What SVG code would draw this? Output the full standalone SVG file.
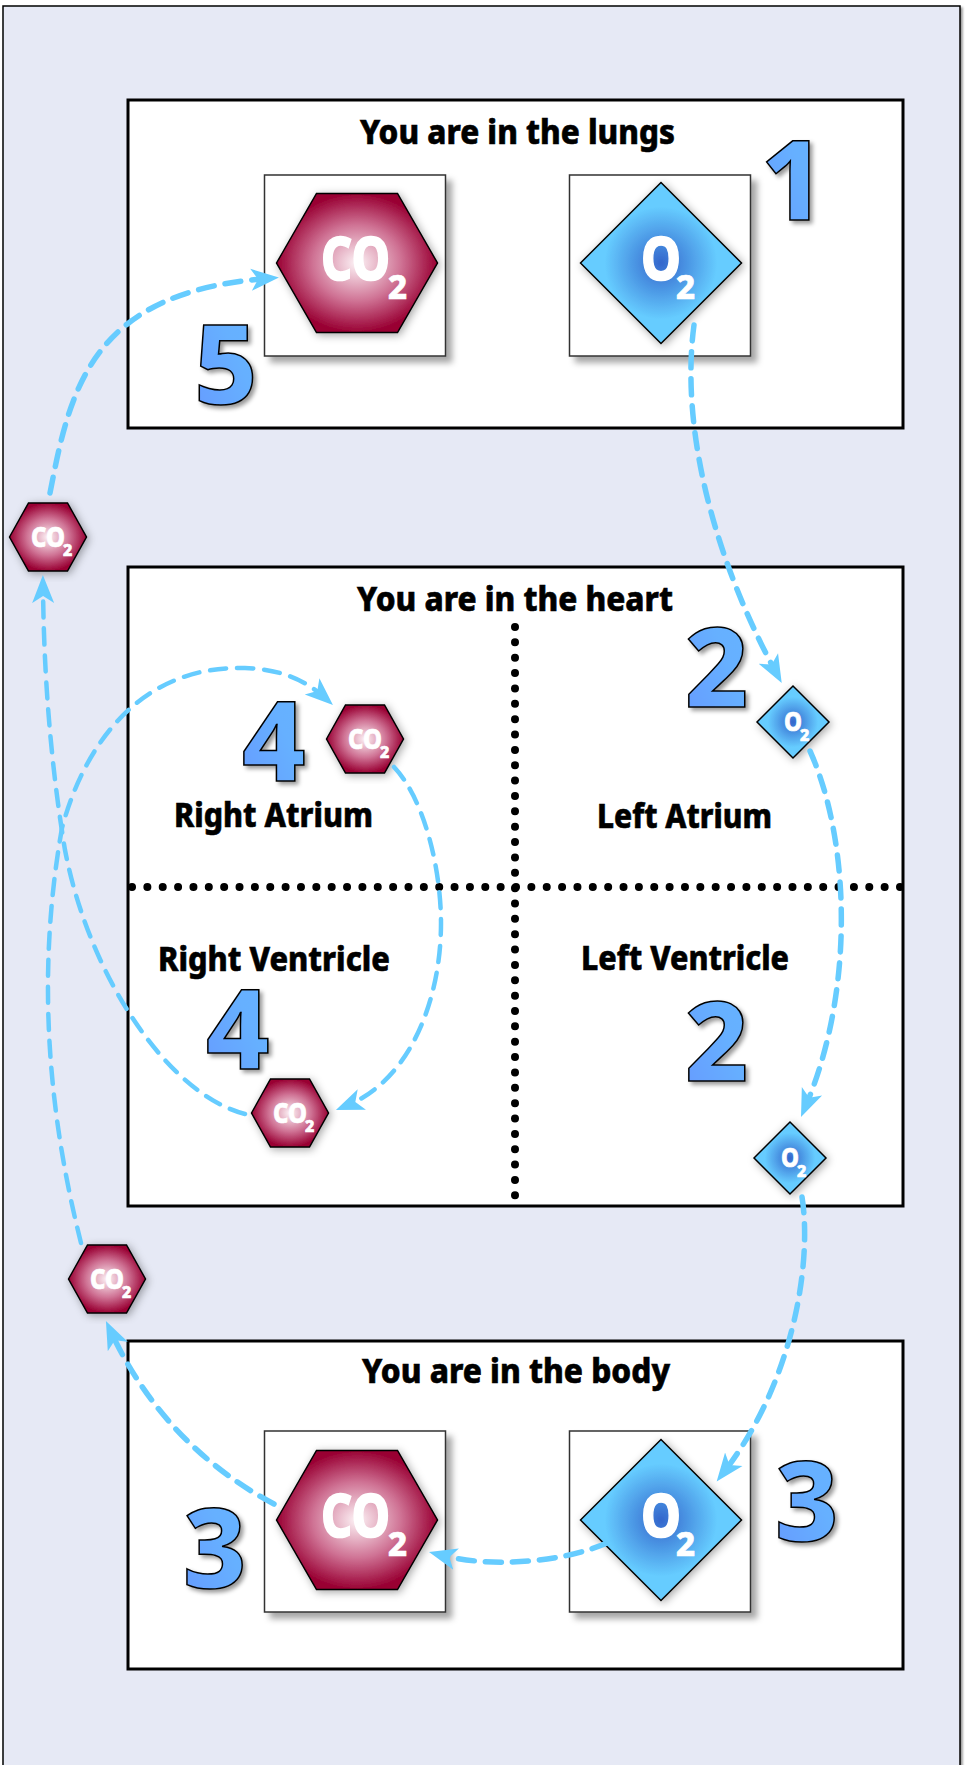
<svg xmlns="http://www.w3.org/2000/svg" width="968" height="1765" viewBox="0 0 968 1765">
<style>
.panel{fill:#fff;stroke:#000;stroke-width:3}
.box{fill:#fff;stroke:#333;stroke-width:1.5;filter:url(#sh)}
.hex{fill:url(#gh);stroke:#000;stroke-width:1.5;filter:url(#gl)}
.dia{fill:url(#gd);stroke:#000;stroke-width:1.5;filter:url(#gl)}
.t{font-family:"Noto Sans","DejaVu Sans",sans-serif;font-weight:800;fill:#000;stroke:#000;stroke-width:.6px;font-size:33px}
.w{font-family:"Noto Sans","DejaVu Sans",sans-serif;font-weight:800;fill:#fff;stroke:#fff;stroke-width:.7px}
.b{font-size:60px;stroke-width:1.5px}.bs{font-size:33px}.s{font-size:29px}.ss{font-size:16px}
.n{font-family:"Noto Sans","DejaVu Sans",sans-serif;font-weight:800;font-size:110px;fill:url(#gn);stroke:#000;stroke-width:1.5;filter:url(#nsh)}
.c{fill:none;stroke:#66ccff;stroke-width:5.500;stroke-linecap:round;stroke-dasharray:16 11}
.c2{stroke-width:4.500}
.d{fill:none;stroke:#000;stroke-width:8;stroke-linecap:round}
</style>
<defs>
<radialGradient id="gh"><stop offset="0" stop-color="#fdf3f6"/><stop offset=".55" stop-color="#cf7294"/><stop offset="1" stop-color="#990033"/></radialGradient>
<radialGradient id="gd"><stop offset="0" stop-color="#3366cc"/><stop offset=".7" stop-color="#66ccff"/><stop offset="1" stop-color="#66ccff"/></radialGradient>
<linearGradient id="gn" x1="0" y1="1" x2="1" y2="0"><stop offset="0" stop-color="#6699ff"/><stop offset=".6" stop-color="#66b0ff"/><stop offset="1" stop-color="#66b3ff"/></linearGradient>
<filter id="sh" x="-10%" y="-10%" width="125%" height="125%"><feDropShadow dx="6" dy="6" stdDeviation="3" flood-color="#000" flood-opacity=".35"/></filter>
<filter id="psh" x="-2%" y="-2%" width="104%" height="104%"><feDropShadow dx="2" dy="2" stdDeviation="1" flood-color="#000" flood-opacity=".4"/></filter>
<filter id="gl" x="-15%" y="-15%" width="130%" height="130%"><feDropShadow dx="2" dy="2" stdDeviation="4" flood-color="#000" flood-opacity=".35"/></filter>
<filter id="nsh" x="-15%" y="-15%" width="130%" height="130%"><feDropShadow dx="3" dy="3" stdDeviation="2" flood-color="#000" flood-opacity=".4"/></filter>
<marker id="ah" markerUnits="userSpaceOnUse" markerWidth="32" markerHeight="26" viewBox="0 -13 32 26" refX="16" refY="0" orient="auto"><path d="M28 0L0 -11L7 0L0 11Z" fill="#66ccff"/></marker>
<polygon id="hb" points="-80.5,0 -40.5,-69.5 40.5,-69.5 80.5,0 40.5,69.5 -40.5,69.5"/>
<polygon id="hs" points="-38.5,0 -19.5,-34 19.5,-34 38.5,0 19.5,34 -19.5,34"/>
<polygon id="db" points="-80.5,0 0,-80.5 80.5,0 0,80.5"/>
<polygon id="ds" points="-36,0 0,-36 36,0 0,36"/>
</defs>
<rect x="3" y="6" width="957" height="1790" fill="#e6e9f5" stroke="#000" stroke-width="1.5" filter="url(#psh)"/>
<g id="lungs"><rect class="panel" x="128" y="100" width="775" height="328"/><text class="t" x="360" y="144" textLength="315" lengthAdjust="spacingAndGlyphs">You are in the lungs</text></g>
<g id="heart"><rect class="panel" x="128" y="567" width="775" height="639"/><text class="t" x="357" y="611" textLength="316" lengthAdjust="spacingAndGlyphs">You are in the heart</text>
<path class="d" d="M132 887H903" stroke-dasharray="0.01 15.35"/><path class="d" d="M515 627V1206" stroke-dasharray="0.01 15.35"/>
<text class="t" x="174" y="827" textLength="199" lengthAdjust="spacingAndGlyphs">Right Atrium</text>
<text class="t" x="158" y="971" textLength="232" lengthAdjust="spacingAndGlyphs">Right Ventricle</text>
<text class="t" x="597" y="828" textLength="175" lengthAdjust="spacingAndGlyphs">Left Atrium</text>
<text class="t" x="581" y="970" textLength="208" lengthAdjust="spacingAndGlyphs">Left Ventricle</text></g>
<g id="body"><rect class="panel" x="128" y="1341" width="775" height="328"/><text class="t" x="362" y="1383" textLength="308" lengthAdjust="spacingAndGlyphs">You are in the body</text></g>
<g id="lung-co2"><rect class="box" x="264.500" y="175" width="181" height="181"/><use href="#hb" class="hex" x="357" y="263"/><text class="w b" x="321" y="280" textLength="69" lengthAdjust="spacingAndGlyphs">CO</text><text class="w bs" x="388" y="299">2</text></g>
<g id="lung-o2"><rect class="box" x="569.500" y="175" width="181" height="181"/><use href="#db" class="dia" x="661" y="263"/><text class="w b" x="641" y="280" textLength="40" lengthAdjust="spacingAndGlyphs">O</text><text class="w bs" x="676" y="299">2</text></g>
<g id="body-co2"><rect class="box" x="264.500" y="1431" width="181" height="181"/><use href="#hb" class="hex" x="357" y="1520"/><text class="w b" x="321" y="1537" textLength="69" lengthAdjust="spacingAndGlyphs">CO</text><text class="w bs" x="388" y="1556">2</text></g>
<g id="body-o2"><rect class="box" x="569.500" y="1431" width="181" height="181"/><use href="#db" class="dia" x="661" y="1520"/><text class="w b" x="641" y="1537" textLength="40" lengthAdjust="spacingAndGlyphs">O</text><text class="w bs" x="676" y="1556">2</text></g>
<g id="co2-a"><use href="#hs" class="hex" x="48" y="537"/><text class="w s" x="31" y="547" textLength="34" lengthAdjust="spacingAndGlyphs">CO</text><text class="w ss" x="63" y="556">2</text></g>
<g id="co2-b"><use href="#hs" class="hex" x="365" y="739"/><text class="w s" x="348" y="749" textLength="34" lengthAdjust="spacingAndGlyphs">CO</text><text class="w ss" x="380" y="758">2</text></g>
<g id="co2-c"><use href="#hs" class="hex" x="290" y="1113"/><text class="w s" x="273" y="1123" textLength="34" lengthAdjust="spacingAndGlyphs">CO</text><text class="w ss" x="305" y="1132">2</text></g>
<g id="co2-d"><use href="#hs" class="hex" x="107" y="1279"/><text class="w s" x="90" y="1289" textLength="34" lengthAdjust="spacingAndGlyphs">CO</text><text class="w ss" x="122" y="1298">2</text></g>
<g id="o2-a"><use href="#ds" class="dia" x="793" y="722"/><text class="w" x="784" y="731" style="font-size:26px" textLength="18" lengthAdjust="spacingAndGlyphs">O</text><text class="w ss" x="800" y="741">2</text></g>
<g id="o2-b"><use href="#ds" class="dia" x="790" y="1158"/><text class="w" x="781" y="1167" style="font-size:26px" textLength="18" lengthAdjust="spacingAndGlyphs">O</text><text class="w ss" x="797" y="1177">2</text></g>
<text id="n1" class="n" x="761" y="220">1</text>
<text id="n2a" class="n" x="685" y="707">2</text>
<text id="n2b" class="n" x="685" y="1081">2</text>
<text id="n3a" class="n" x="183" y="1588">3</text>
<text id="n3b" class="n" x="775" y="1541">3</text>
<text id="n4a" class="n" x="242" y="781">4</text>
<text id="n4b" class="n" x="206" y="1069">4</text>
<text id="n5" class="n" x="194" y="404">5</text>
<g id="connectors">
<path class="c" marker-end="url(#ah)" d="M50 493C70 390 90 292 267 278.500"/>
<path class="c" marker-end="url(#ah)" d="M694 325C680 430 715 560 776 672.500"/>
<path class="c" marker-end="url(#ah)" d="M810 751C850 840 855 990 805.700 1106"/>
<path class="c" marker-end="url(#ah)" d="M802 1197C812 1260 795 1380 724 1472"/>
<path class="c" marker-end="url(#ah)" d="M607 1543C560 1563 490 1568 440.600 1555"/>
<path class="c" marker-end="url(#ah)" d="M274 1504C200 1465 145 1405 111 1332"/>
<path class="c c2" marker-end="url(#ah)" d="M81 1243C50 1120 35 980 62 828C80 760 130 665 245 668C280 669 305 680 324 697"/>
<path class="c c2" marker-end="url(#ah)" d="M245 1114C170 1095 90 980 65 850C55 790 44 700 43 587"/>
<path class="c c2" marker-end="url(#ah)" d="M394 767C425 800 441 870 441 923C441 1000 410 1080 347 1105.500"/>
</g>
</svg>
